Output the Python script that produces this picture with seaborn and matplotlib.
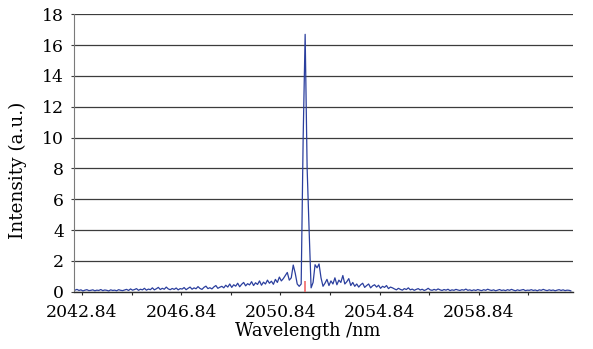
import numpy as np
import pandas as pd
import matplotlib
matplotlib.use("Agg")
import matplotlib.pyplot as plt
import seaborn as sns

# ---- data ----
start_wl = 2042.56
step_wl = 0.08
intensity = [
    0.10, 0.15, 0.08, 0.12, 0.05, 0.10, 0.13, 0.07, 0.09, 0.12, 0.06, 0.10, 0.08, 0.14, 0.07, 0.11, 0.09, 0.05, 0.12, 0.08, 0.10, 0.06, 0.13, 0.09, 0.07,
    0.11, 0.15, 0.08, 0.18, 0.10, 0.14, 0.20, 0.09, 0.16, 0.12, 0.22, 0.10, 0.17, 0.13, 0.25, 0.12, 0.19, 0.28, 0.14, 0.22, 0.16, 0.30, 0.18, 0.13, 0.21,
    0.15, 0.24, 0.12, 0.20, 0.17, 0.27, 0.13, 0.22, 0.30, 0.16, 0.25, 0.19, 0.33, 0.21, 0.15, 0.28, 0.36, 0.20, 0.26, 0.18, 0.31, 0.40, 0.22, 0.29, 0.35,
    0.25, 0.42, 0.30, 0.50, 0.28, 0.45, 0.36, 0.55, 0.32, 0.48, 0.60, 0.38, 0.52, 0.44, 0.65, 0.40, 0.58, 0.47, 0.70, 0.42, 0.62, 0.50, 0.75, 0.55, 0.68,
    0.48, 0.80, 0.60, 0.95, 0.70, 0.85, 1.05, 1.25, 0.75, 0.90, 1.73, 1.20, 0.50,
    0.35, 0.50, 10.00, 16.70, 8.00, 4.00,
    0.25, 0.60, 1.75, 1.55, 1.80, 0.90, 0.35,
    0.55, 0.80, 0.40, 0.70, 0.50, 0.90, 0.45, 0.75, 0.60, 1.05, 0.50, 0.65, 0.85, 0.40, 0.60,
    0.35, 0.50, 0.30, 0.45, 0.55, 0.28, 0.40, 0.50, 0.25, 0.38, 0.45, 0.30, 0.42, 0.22, 0.35, 0.28, 0.40, 0.20, 0.30, 0.25,
    0.18, 0.12, 0.22, 0.15, 0.10, 0.20, 0.14, 0.25, 0.12, 0.17, 0.09, 0.15, 0.20, 0.11, 0.16, 0.08, 0.13, 0.22, 0.12, 0.09,
    0.15, 0.10, 0.18, 0.12, 0.08, 0.14, 0.10, 0.16, 0.07, 0.12, 0.09, 0.15, 0.11, 0.08, 0.13, 0.10, 0.17, 0.09, 0.12, 0.07,
    0.12, 0.08, 0.14, 0.10, 0.07, 0.13, 0.09, 0.16, 0.11, 0.08, 0.12, 0.06, 0.10, 0.14, 0.08, 0.11, 0.07, 0.13, 0.09, 0.15,
    0.10, 0.06, 0.12, 0.08, 0.11, 0.14, 0.07, 0.10, 0.09, 0.13, 0.08, 0.11, 0.06, 0.12, 0.09, 0.15, 0.10, 0.07, 0.12, 0.08,
    0.11, 0.06, 0.10, 0.13, 0.08, 0.12, 0.07, 0.10, 0.09, 0.05,
]
red_wl = [2051.83]
red_val = [0.70]
xtick_labels = ["2042.84", "2046.84", "2050.84", "2054.84", "2058.84"]
yticks = [0, 2, 4, 6, 8, 10, 12, 14, 16, 18]

wavelength = start_wl + step_wl * np.arange(len(intensity))
df = pd.DataFrame({"wl": wavelength, "I": intensity})

sns.set_theme(style="white")
plt.rcParams["font.family"] = ["DejaVu Serif"]

fig = plt.figure(figsize=(5.93, 3.49), dpi=100)
ax = fig.add_axes([74 / 593, 57.3 / 349, 499 / 593, 277.4 / 349])

sns.lineplot(data=df, x="wl", y="I", ax=ax, color="#2b3f9e", linewidth=0.9)
ax.vlines(red_wl, 0, red_val, color="#f06a6a", linewidth=1.2, zorder=3)

ax.set_xlim(2042.52, 2062.64)
ax.set_ylim(0, 18)
ax.set_yticks(yticks)
ax.set_yticklabels([str(v) for v in yticks], fontsize=12.4)

major = [float(t) for t in xtick_labels]
ax.set_xticks(major)
ax.set_xticklabels(xtick_labels, fontsize=12.4)
minor = [m + 2 for m in major]
ax.set_xticks(minor, minor=True)

ax.grid(axis="y", color="#3c3c3c", linewidth=0.9)
ax.set_axisbelow(True)
for s in ["top", "right"]:
    ax.spines[s].set_visible(False)
ax.spines["left"].set_color("#7a7a7a")
ax.spines["left"].set_linewidth(0.8)
ax.spines["bottom"].set_color("#2a2a2a")
ax.spines["bottom"].set_linewidth(1.0)

ax.tick_params(axis="x", which="both", direction="out", length=2.5, width=0.8,
               color="#2a2a2a", pad=6, bottom=True, labelcolor="black")
ax.tick_params(axis="y", direction="out", length=2.5, width=0.8,
               color="#3c3c3c", pad=4.5, left=True, labelcolor="black")

ax.set_xlabel("Wavelength /nm", fontsize=12.9, color="black")
ax.xaxis.set_label_coords((307.5 - 74) / 499, -0.109)
ax.set_ylabel("Intensity (a.u.)", fontsize=13.2, color="black")
ax.yaxis.set_label_coords((27 - 74) / 499, (291.7 - 170) / 277.4)

fig.savefig("out.png", dpi=100)
